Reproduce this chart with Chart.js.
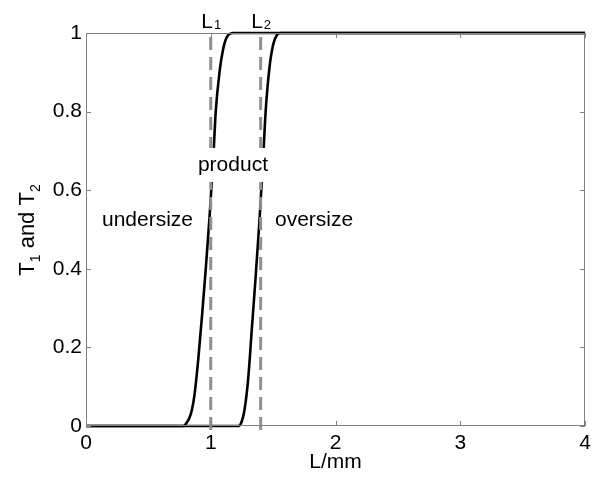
<!DOCTYPE html>
<html><head><meta charset="utf-8">
<script src="https://cdn.jsdelivr.net/npm/chart.js@4/dist/chart.umd.min.js"></script>
<style>html,body{margin:0;padding:0;background:#fff}#wrap{width:602px;height:481px}</style>
</head><body><div id="wrap"><canvas id="c"></canvas></div>
<script>
const t1L = [0, 0.78, 0.80, 0.84, 0.87, 0.90, 0.93, 0.96, 0.99, 1.02, 1.04, 1.07, 1.10, 1.13, 1.18, 4];
const t1V = [0, 0, 0.005, 0.03, 0.08, 0.17, 0.28, 0.40, 0.53, 0.68, 0.80, 0.90, 0.96, 0.99, 1, 1];
const t2L = [0, 1.22, 1.24, 1.27, 1.30, 1.33, 1.36, 1.39, 1.42, 1.44, 1.47, 1.50, 1.53, 1.56, 4];
const t2V = [0, 0, 0.005, 0.04, 0.12, 0.25, 0.38, 0.52, 0.68, 0.80, 0.91, 0.97, 0.995, 1, 1];
const cutL = [1.0, 1.4];
const xTicks = [0, 1, 2, 3, 4];
const yTicks = [0, 0.2, 0.4, 0.6, 0.8, 1];
const notes = [
  {text: 'undersize', x: 0.128, y: 0.509, align: 'left', box: false},
  {text: 'product', x: 1.178, y: 0.649, align: 'center', box: true},
  {text: 'oversize', x: 1.515, y: 0.509, align: 'left', box: false}
];

const FONT = '"Liberation Sans", Arial, sans-serif';
const pts = (xs, ys) => xs.map((x, i) => ({x, y: ys[i]}));

const deco = {
  id: 'deco',
  afterDatasetsDraw(chart) {
    const {ctx, chartArea: a, scales: {x, y}} = chart;
    ctx.save();
    ctx.strokeStyle = '#808080'; ctx.lineWidth = 1;
    ctx.strokeRect(a.left + 0.5, a.top + 0.5, a.right - a.left - 1, a.bottom - a.top - 1);
    ctx.beginPath();
    xTicks.forEach(v => { const p = Math.round(x.getPixelForValue(v)) + 0.5;
      ctx.moveTo(p, a.bottom); ctx.lineTo(p, a.bottom - 5);
      ctx.moveTo(p, a.top); ctx.lineTo(p, a.top + 5); });
    yTicks.forEach(v => { const p = Math.round(y.getPixelForValue(v)) + 0.5;
      ctx.moveTo(a.left, p); ctx.lineTo(a.left + 5, p);
      ctx.moveTo(a.right, p); ctx.lineTo(a.right - 5, p); });
    ctx.stroke();
    ctx.fillStyle = '#000'; ctx.font = '21px ' + FONT;
    ctx.textAlign = 'center'; ctx.textBaseline = 'alphabetic';
    xTicks.forEach(v => ctx.fillText(String(v), x.getPixelForValue(v), a.bottom + 23));
    ctx.textAlign = 'right'; ctx.textBaseline = 'middle';
    yTicks.forEach(v => ctx.fillText(String(Math.round(v * 10) / 10), a.left - 4, y.getPixelForValue(v)));
    ctx.textAlign = 'center'; ctx.textBaseline = 'alphabetic';
    ctx.fillText('L/mm', x.getPixelForValue(2), 468);
    // y title with subscripts
    ctx.save();
    ctx.translate(34, 230); ctx.rotate(-Math.PI / 2);
    const parts = [['T', 0], ['1', 1], [' and T', 0], ['2', 1]];
    const f = sub => (sub ? '14px ' : '22px ') + FONT;
    let w = 0;
    parts.forEach(([s, sub]) => { ctx.font = f(sub); w += ctx.measureText(s).width; });
    let cx = -w / 2; ctx.textAlign = 'left';
    parts.forEach(([s, sub]) => { ctx.font = f(sub);
      ctx.fillText(s, cx, sub ? 6 : 0); cx += ctx.measureText(s).width; });
    ctx.restore();
    // L1 / L2 labels
    cutL.forEach((v, i) => {
      const px = x.getPixelForValue(v);
      ctx.font = '21px ' + FONT; const wl = ctx.measureText('L').width;
      ctx.font = '13px ' + FONT; const ws = ctx.measureText(String(i + 1)).width;
      const sx = px - (wl + ws) / 2;
      ctx.textAlign = 'left';
      ctx.font = '21px ' + FONT; ctx.fillText('L', sx, 28);
      ctx.font = '13px ' + FONT; ctx.fillText(String(i + 1), sx + wl + 1, 29);
    });
    // notes
    ctx.font = '21px ' + FONT; ctx.textBaseline = 'alphabetic';
    notes.forEach(n => {
      const px = x.getPixelForValue(n.x), py = y.getPixelForValue(n.y);
      const tw = ctx.measureText(n.text).width;
      if (n.box) { ctx.fillStyle = '#fff';
        const l = n.align === 'center' ? px - tw / 2 : px;
        ctx.fillRect(l - 3, py - 23, tw + 6, 34); }
      ctx.fillStyle = '#000'; ctx.textAlign = n.align;
      ctx.fillText(n.text, px, py);
    });
    ctx.restore();
  }
};

new Chart(document.getElementById('c'), {
  type: 'line',
  data: {
    datasets: [
      {data: pts([cutL[0], cutL[0]], [-0.01, 1]), borderColor: '#8f8f8f', borderWidth: 3, borderDash: [13, 7], pointRadius: 0},
      {data: pts([cutL[1], cutL[1]], [-0.01, 1]), borderColor: '#8f8f8f', borderWidth: 3, borderDash: [13, 7], pointRadius: 0},
      {data: pts(t1L, t1V), borderColor: '#000', borderWidth: 2.6, pointRadius: 0, cubicInterpolationMode: 'monotone'},
      {data: pts(t2L, t2V), borderColor: '#000', borderWidth: 2.6, pointRadius: 0, cubicInterpolationMode: 'monotone'}
    ]
  },
  options: {
    responsive: true, maintainAspectRatio: false, animation: false,
    events: [],
    layout: {padding: {left: 0, right: 17, top: 33, bottom: 0}},
    plugins: {legend: {display: false}, tooltip: {enabled: false}},
    scales: {
      x: {type: 'linear', min: 0, max: 4, grid: {display: false}, border: {display: false},
          ticks: {display: false}, afterFit(s) { s.height = 55; }},
      y: {type: 'linear', min: 0, max: 1, grid: {display: false}, border: {display: false},
          ticks: {display: false}, afterFit(s) { s.width = 86; }}
    },
    clip: false
  },
  plugins: [deco]
});
</script></body></html>
